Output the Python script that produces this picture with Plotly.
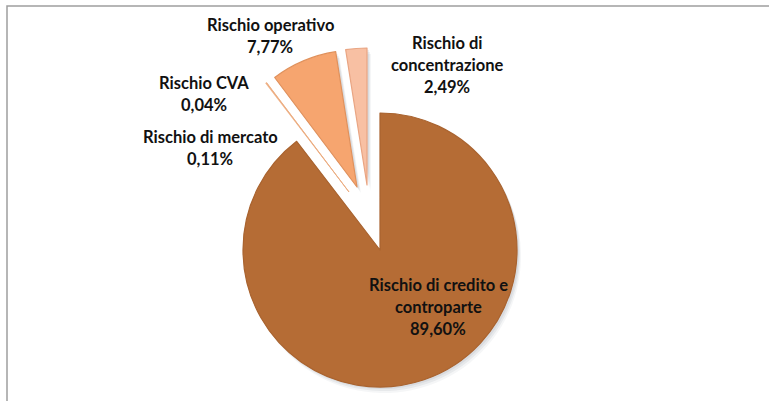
import plotly.graph_objects as go

# ---- data ----
labels = ["Rischio di credito e controparte", "Rischio di mercato", "Rischio CVA",
          "Rischio operativo", "Rischio di concentrazione"]
values = [89.60, 0.11, 0.04, 7.77, 2.49]
value_text = ["89,60%", "0,11%", "0,04%", "7,77%", "2,49%"]
label_lines = [["Rischio di credito e", "controparte"],
               ["Rischio di mercato"],
               ["Rischio CVA"],
               ["Rischio operativo"],
               ["Rischio di", "concentrazione"]]
colors = ["#B56C35", "#F2B080", "#F2B080", "#F6A56F", "#F8C0A3"]

# ---- layout constants ----
W, H = 769, 401
CX, CY, R = 380, 250, 137
# explosion offsets (px) of each slice centre from the pie centre
offsets = [(0, 0), (-31, -58), (-31, -58), (-23, -63), (-13, -65)]
line_colors = ["#A9632F", "#E9A678", "#E9A678", "#E0915C", "#E9A583"]
line_widths = [1.2, 0.5, 0.5, 1.2, 1.2]
TRANSP = "rgba(0,0,0,0)"


def dom(cx, cy, r):
    return dict(x=[(cx - r) / W, (cx + r) / W], y=[1 - (cy + r) / H, 1 - (cy - r) / H])


centers = [(CX + dx, CY + dy) for dx, dy in offsets]

fig = go.Figure()


def pie_trace(idxs, cx, cy, color, lw, lc):
    cols = [color if i in idxs else TRANSP for i in range(len(values))]
    lws = [lw if i in idxs else 0 for i in range(len(values))]
    lcs = [lc if i in idxs else TRANSP for i in range(len(values))]
    return go.Pie(
        values=values, labels=labels, sort=False, direction="clockwise", rotation=0,
        domain=dom(cx, cy, R), textinfo="none", hoverinfo="skip", showlegend=False,
        marker=dict(colors=cols, line=dict(color=lcs, width=lws)),
    )


# soft shadows
for (sx, sy, a) in [(4, 6, 0.05), (3, 4, 0.07), (2, 2, 0.08)]:
    for i in [0, 3, 4]:
        cx, cy = centers[i]
        fig.add_trace(pie_trace([i], cx + sx, cy + sy, f"rgba(60,70,90,{a})", 0, TRANSP))

# slices (mercato + CVA share the same exploded position)
groups = [[0], [3], [4], [1, 2]]
for g in groups:
    cx, cy = centers[g[0]]
    fig.add_trace(pie_trace(g, cx, cy, colors[g[0]], line_widths[g[0]], line_colors[g[0]]))

# labels (one annotation per line)
label_pos = [(438, 285), (210, 137), (204, 83), (270, 25), (447, 43)]
annotations = []
for i, (x, y) in enumerate(label_pos):
    lines = label_lines[i] + [value_text[i]]
    for k, t in enumerate(lines):
        annotations.append(dict(
            x=x / W, y=1 - (y + 22 * k) / H, xref="paper", yref="paper",
            text=t, showarrow=False, xanchor="center", yanchor="middle",
            font=dict(family="Lato", size=16.5, color="#111111", weight="bold"),
        ))

fig.update_layout(
    width=W, height=H, margin=dict(l=0, r=0, t=0, b=0),
    paper_bgcolor="white", plot_bgcolor="white",
    annotations=annotations,
    shapes=[dict(type="rect", xref="paper", yref="paper",
                 x0=7 / W, x1=1.02, y0=-0.05, y1=1 - 6 / H,
                 line=dict(color="#9E9E9E", width=1.5))],
)

fig.write_html("out.html")
